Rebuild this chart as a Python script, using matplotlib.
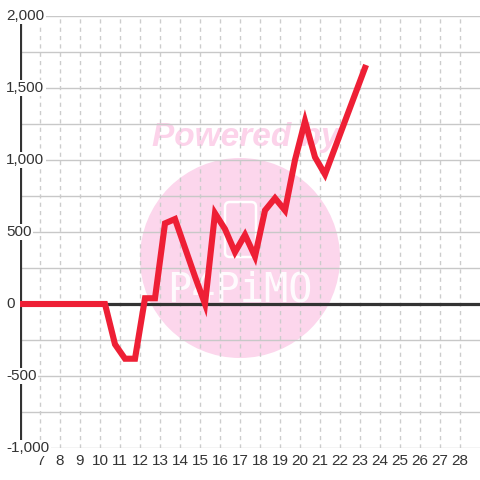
import matplotlib
matplotlib.use("Agg")
import matplotlib.pyplot as plt
from matplotlib.patches import Circle, FancyBboxPatch

# donnees
x = [5.75, 6.25, 6.75, 7.25, 7.75, 8.25, 8.75, 9.25, 9.75, 10.25,
     10.75, 11.25, 11.75, 12.25, 12.75, 13.25, 13.75, 14.25, 14.75, 15.25,
     15.75, 16.25, 16.75, 17.25, 17.75, 18.25, 18.75, 19.25, 19.75, 20.25,
     20.75, 21.25, 21.75, 22.25, 22.75, 23.25]
y = [0, 0, 0, 0, 0, 0, 0, 0, 0, 0,
     -280, -380, -380, 40, 40, 560, 590, 390, 190, 0,
     630, 520, 360, 480, 330, 650, 735, 650, 1000, 1270,
     1020, 900, 1085, 1270, 1455, 1640]

xticks = list(range(7, 29))
yticks = [-1000, -500, 0, 500, 1000, 1500, 2000]
ylabels = ["-1,000", "-500", "0", "500", "1,000", "1,500", "2,000"]
ygrid = list(range(-1000, 2001, 250))

plt.rcParams['font.family'] = ['Liberation Sans', 'DejaVu Sans']

fig = plt.figure(figsize=(4.8, 4.8), dpi=100)
ax = fig.add_axes([20/480, 32/480, 460/480, 432/480])
ax.set_xlim(6, 29)
ax.set_ylim(-1000, 2000)
for s in ax.spines.values():
    s.set_visible(False)
ax.set_xticks([])
ax.set_yticks([])

# filigrane (coordonnees pixels de la figure)
tf = fig.transFigure
ax.add_patch(Circle((240/480, 1 - 258/480), 100/480, transform=tf,
                    facecolor='#fcd6ec', edgecolor='none', zorder=0.5, clip_on=False))
ax.add_patch(FancyBboxPatch((225/480, 1 - 257/480), 31/480, 55/480,
                            boxstyle="round,pad=0,rounding_size=0.01",
                            transform=tf, facecolor='none',
                            edgecolor='white', lw=1.8, zorder=0.6, clip_on=False))
ax.text(246/480, 1 - 146/480, "Powered by", color='#fcd3ea', fontsize=24,
        fontweight='bold', fontstyle='italic', ha='center', va='baseline',
        transform=tf, zorder=0.6)
ax.text(240/480, 1 - 290/480, "P4PiMO", color='white', fontsize=29,
        family='DejaVu Sans Mono', ha='center', va='center', transform=tf,
        zorder=0.6, alpha=0.9)

# grille
for g in ygrid:
    ax.axhline(g, color='#c8c8c8', lw=1, zorder=1)
for t in xticks:
    ax.axvline(t, color='#cccccc', lw=1, ls=(0, (3, 3)), zorder=1)

ax.axhline(0, color='#333333', lw=2.3, zorder=2)
ax.axvline(6, color='#333333', lw=2.3, zorder=2)

ax.plot(x, y, color='#ee1f35', lw=4.4, zorder=3, solid_joinstyle='miter')

for v, lab in zip(yticks, ylabels):
    ax.text(6 - 14/20, v, lab, fontsize=11, color='#333333', ha='left', va='center',
            bbox=dict(facecolor='white', edgecolor='none', pad=1), zorder=5, clip_on=False)
for t in xticks:
    ax.text(t, -1000 - 6/0.144, str(t), fontsize=11, color='#333333',
            ha='center', va='top', clip_on=False)

fig.savefig("out.png", dpi=100)
